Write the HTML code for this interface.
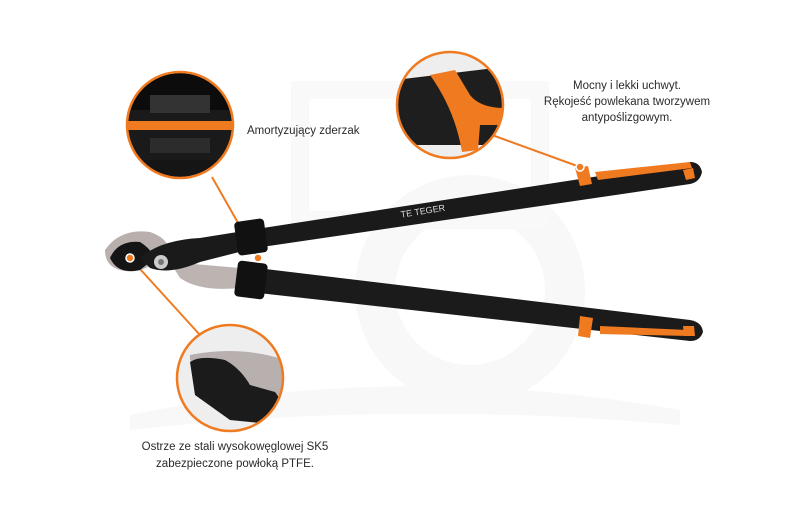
<!DOCTYPE html>
<html><head><meta charset="utf-8"><style>
html,body{margin:0;padding:0;background:#fff;}
svg{display:block}
text{font-family:"Liberation Sans Narrow","Liberation Sans",sans-serif;fill:#2a2a2a;font-size:11.5px}
</style></head><body>
<svg width="800" height="518" viewBox="0 0 800 518" xmlns="http://www.w3.org/2000/svg">
<defs>
<clipPath id="c1"><circle cx="180" cy="125" r="52"/></clipPath>
<clipPath id="c2"><circle cx="450" cy="105" r="52"/></clipPath>
<clipPath id="c3"><circle cx="230" cy="378" r="52"/></clipPath>
</defs>
<!-- watermark -->
<g fill="#f8f8f8">
<path d="M130 415 Q400 360 680 410 L680 425 Q400 400 130 430 Z"/>
<circle cx="470" cy="290" r="95" fill="none" stroke="#f8f8f8" stroke-width="40"/>
<rect x="300" y="90" width="240" height="130" fill="none" stroke="#f9f9f9" stroke-width="18"/>
</g>
<!-- leader lines -->
<g stroke="#f07a20" stroke-width="2" fill="none">
<line x1="212" y1="177" x2="258" y2="258"/>
<line x1="492" y1="135" x2="580" y2="167"/>
<line x1="200" y1="335" x2="130" y2="258"/>
</g>
<!-- blade -->
<path d="M105 250 Q120 228 150 232 Q168 238 170 252 L155 262 Q140 275 120 270 Q105 266 105 250Z" fill="#b9b0ae"/>
<path d="M110 258 Q118 240 140 242 Q150 248 155 258 L140 270 Q118 275 110 258Z" fill="#151515"/>
<path d="M170 262 L240 268 L240 288 Q200 292 180 278Z" fill="#bdb4b2"/>
<!-- upper arm -->
<path d="M140 258 Q160 240 200 238 L250 230 L690 162 Q700 162 702 172 Q700 182 690 184 L255 248 L200 262 Q170 275 150 268Z" fill="#1a1a1a"/>
<rect x="236" y="220" width="30" height="34" rx="4" fill="#111" transform="rotate(-8 251 237)"/>
<!-- lower arm -->
<path d="M240 266 L690 320 Q702 322 703 332 Q700 341 690 341 L240 291Z" fill="#1b1b1b"/>
<rect x="236" y="262" width="30" height="36" rx="4" fill="#111" transform="rotate(7 251 280)"/>
<circle cx="161" cy="262" r="7" fill="#ccc"/><circle cx="161" cy="262" r="3" fill="#777"/>
<!-- grips -->
<path d="M575 168 L588 166 L592 184 L580 186Z" fill="#f07a20"/>
<path d="M595 172 L690 162 L692 168 L598 180Z" fill="#f07a20"/>
<path d="M683 170 L693 168 L695 178 L686 180Z" fill="#f07a20"/>
<path d="M580 316 L593 318 L590 338 L578 336Z" fill="#f07a20"/>
<path d="M600 326 L688 330 L688 336 L600 334Z" fill="#f07a20"/>
<path d="M683 326 L694 326 L695 336 L684 336Z" fill="#f07a20"/>
<text x="400" y="213" style="font-size:9px;fill:#ddd" transform="rotate(-9 430 208)">TE TEGER</text>
<!-- dots -->
<circle cx="258" cy="258" r="4" fill="#f07a20" stroke="#fff" stroke-width="1.5"/>
<circle cx="130" cy="258" r="4" fill="#f07a20" stroke="#fff" stroke-width="1.5"/>
<circle cx="580" cy="167" r="4" fill="#f07a20" stroke="#fff" stroke-width="1.5"/>
<!-- circle 1 -->
<g clip-path="url(#c1)">
<rect x="120" y="70" width="120" height="120" fill="#1a1a1a"/>
<rect x="120" y="70" width="120" height="40" fill="#0c0c0c"/>
<rect x="150" y="95" width="60" height="18" fill="#333"/>
<rect x="120" y="121" width="120" height="9" fill="#f07a20"/>
<rect x="150" y="138" width="60" height="15" fill="#2c2c2c"/>
<rect x="120" y="160" width="120" height="30" fill="#151515"/>
</g>
<circle cx="180" cy="125" r="53" fill="none" stroke="#f07a20" stroke-width="2.5"/>
<!-- circle 2 -->
<g clip-path="url(#c2)">
<rect x="395" y="50" width="110" height="110" fill="#eee"/>
<path d="M395 80 L520 65 L520 145 L395 145Z" fill="#1e1e1e"/>
<path d="M430 75 L455 70 L470 95 Q480 108 505 108 L505 125 L480 125 L478 150 L462 152 Q455 110 430 75Z" fill="#f07a20"/>
</g>
<circle cx="450" cy="105" r="53" fill="none" stroke="#f07a20" stroke-width="2.5"/>
<!-- circle 3 -->
<g clip-path="url(#c3)">
<rect x="175" y="325" width="110" height="110" fill="#eee"/>
<path d="M190 355 Q240 345 285 360 L285 395 L240 395 Q210 385 190 360Z" fill="#b8b0ae"/>
<path d="M190 362 Q200 355 225 360 Q240 368 250 385 L275 392 L285 405 L280 425 L230 420 L195 395Z" fill="#1b1b1b"/>
</g>
<circle cx="230" cy="378" r="53" fill="none" stroke="#f07a20" stroke-width="2.5"/>
<!-- labels -->
<text x="247" y="134">Amortyzujący zderzak</text>
<text x="627" y="89" text-anchor="middle">Mocny i lekki uchwyt.</text>
<text x="627" y="105" text-anchor="middle">Rękojeść powlekana tworzywem</text>
<text x="627" y="121" text-anchor="middle">antypoślizgowym.</text>
<text x="235" y="450" text-anchor="middle">Ostrze ze stali wysokowęglowej SK5</text>
<text x="235" y="467" text-anchor="middle">zabezpieczone powłoką PTFE.</text>
</svg>
</body></html>
